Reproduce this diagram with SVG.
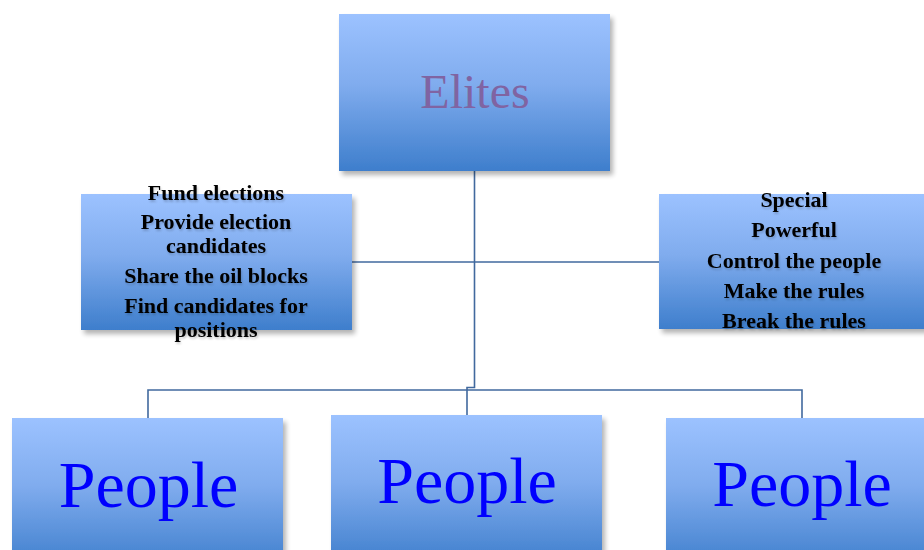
<svg xmlns="http://www.w3.org/2000/svg" width="924" height="550" viewBox="0 0 924 550">
<defs>
<linearGradient id="g" x1="0" y1="0" x2="0" y2="1">
<stop offset="0" stop-color="#9CC2FF"/>
<stop offset="0.45" stop-color="#80ACEE"/>
<stop offset="1" stop-color="#3E7ECC"/>
</linearGradient>
<filter id="sh" x="-5%" y="-5%" width="115%" height="120%">
<feGaussianBlur in="SourceAlpha" stdDeviation="2.5"/>
<feOffset dx="3" dy="4" result="b"/>
<feComponentTransfer><feFuncA type="linear" slope="0.3"/></feComponentTransfer>
<feMerge><feMergeNode/><feMergeNode in="SourceGraphic"/></feMerge>
</filter>
<filter id="tsh" x="-5%" y="-20%" width="110%" height="150%">
<feGaussianBlur in="SourceAlpha" stdDeviation="1.2"/>
<feOffset dx="1" dy="2"/>
<feComponentTransfer><feFuncA type="linear" slope="0.18"/></feComponentTransfer>
<feMerge><feMergeNode/><feMergeNode in="SourceGraphic"/></feMerge>
</filter>
</defs>
<style>
.box{fill:url(#g);filter:url(#sh);}
.conn{fill:none;stroke:#41699E;stroke-width:1.6;}
.elite{font-family:"Liberation Serif","DejaVu Serif",serif;font-size:48px;fill:#8064A2;text-anchor:middle;}
.people{font-family:"Liberation Serif","DejaVu Serif",serif;font-size:66px;fill:#0000FF;text-anchor:middle;}
.lst{font-family:"Liberation Serif","DejaVu Serif",serif;font-size:22px;font-weight:bold;fill:#000;text-anchor:middle;filter:url(#tsh);}
</style>
<g id="connectors">
<path class="conn" d="M474.5 171 V387.5 H467 V415"/>
<path class="conn" d="M148 418 V390 H802 V418"/>
<path class="conn" d="M352 262 H659"/>
</g>
<g id="elites">
<rect class="box" x="339" y="14" width="271" height="157"/>
<text class="elite" x="475" y="108">Elites</text>
</g>
<g id="left-list">
<rect class="box" x="81" y="194" width="271" height="136"/>
<text class="lst" x="216" y="200">Fund elections</text>
<text class="lst" x="216" y="228.5">Provide election</text>
<text class="lst" x="216" y="252.5">candidates</text>
<text class="lst" x="216" y="283">Share the oil blocks</text>
<text class="lst" x="216" y="313">Find candidates for</text>
<text class="lst" x="216" y="337">positions</text>
</g>
<g id="right-list">
<rect class="box" x="659" y="194" width="271" height="135"/>
<text class="lst" x="794" y="207">Special</text>
<text class="lst" x="794" y="237">Powerful</text>
<text class="lst" x="794" y="268">Control the people</text>
<text class="lst" x="794" y="298">Make the rules</text>
<text class="lst" x="794" y="328">Break the rules</text>
</g>
<g id="people-left">
<rect class="box" x="12" y="418" width="271" height="150"/>
<text class="people" x="148.5" y="507">People</text>
</g>
<g id="people-middle">
<rect class="box" x="331" y="415" width="271" height="150"/>
<text class="people" x="467" y="503">People</text>
</g>
<g id="people-right">
<rect class="box" x="666" y="418" width="271" height="150"/>
<text class="people" x="802" y="506">People</text>
</g>
</svg>
